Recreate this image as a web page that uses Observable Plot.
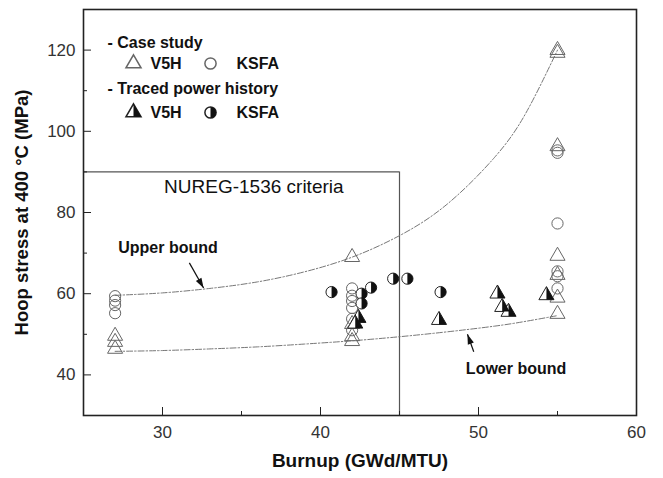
<!DOCTYPE html>
<html><head><meta charset="utf-8">
<script src="https://cdn.jsdelivr.net/npm/d3@7"></script>
<script src="https://cdn.jsdelivr.net/npm/@observablehq/plot@0.6"></script>
<style>body{margin:0;background:#fff;}</style>
</head><body><div id="chart"></div>
<script>
// ---- data ----
const caseV5HBurnup = [27, 27, 27, 42, 42, 42, 42, 55, 55, 55, 55, 55, 55, 55];
const caseV5HStress = [49.6, 48.1, 46.4, 69.0, 52.5, 49.5, 48.3, 120.0, 119.3, 96.3, 69.3, 64.6, 59.0, 55.0];
const caseKSFABurnup = [27, 27, 27, 27, 42, 42, 42, 42, 42, 42, 55, 55, 55, 55, 55, 55];
const caseKSFAStress = [59.4, 58.3, 57.2, 55.2, 61.3, 59.5, 58.2, 56.5, 53.8, 51.0, 95.3, 94.7, 77.3, 65.5, 64.3, 61.3];
const tracedV5HBurnup = [42.4, 42.2, 47.5, 51.2, 51.5, 51.9, 54.3];
const tracedV5HStress = [54.0, 52.6, 53.5, 60.0, 56.7, 55.5, 59.6];
const tracedKSFABurnup = [40.7, 42.6, 43.2, 42.6, 44.6, 45.5, 47.6];
const tracedKSFAStress = [60.4, 60.0, 61.5, 57.6, 63.7, 63.7, 60.4];
const boundBurnup = [27, 30, 33, 36, 39, 42, 45, 48, 51, 53, 55];
const upperStress = [59.6, 60.2, 61.3, 62.9, 65.4, 69.0, 74.3, 82.0, 93.5, 104.5, 120.0];
const lowerStress = [45.8, 46.0, 46.4, 46.9, 47.6, 48.4, 49.4, 50.6, 52.0, 53.2, 54.6];
const xMajorTicks = [30, 40, 50, 60];
const xMinorTicks = [35, 45, 55];
const yMajorTicks = [40, 60, 80, 100, 120];
const yMinorTicks = [50, 70, 90, 110];
const nuregLimit = {burnup: 45, stress: 90};
const annotationLabels = ["Upper bound", "Lower bound"];
const annotationX = [27.2, 49.2];
const annotationY = [71.2, 41.4];
const arrowFromX = [31.7, 49.7], arrowFromY = [67.6, 45.7];
const arrowToX = [32.6, 49.3], arrowToY = [61.4, 50.0];

const zip = (xs, ys) => xs.map((x, i) => ({x, y: ys[i]}));
const caseV5H = zip(caseV5HBurnup, caseV5HStress);
const caseKSFA = zip(caseKSFABurnup, caseKSFAStress);
const tracedV5H = zip(tracedV5HBurnup, tracedV5HStress);
const tracedKSFA = zip(tracedKSFABurnup, tracedKSFAStress);
const upper = zip(boundBurnup, upperStress);
const lower = zip(boundBurnup, lowerStress);
const annotations = annotationLabels.map((label, i) => ({
  label, x: annotationX[i], y: annotationY[i],
  x1: arrowFromX[i], y1: arrowFromY[i], x2: arrowToX[i], y2: arrowToY[i]
}));

// ---- layout ----
const W = 663, H = 478;
const mL = 83, mR = 27, mT = 9, mB = 63;
const xDomain = [25, 60], yDomain = [30, 130];

// custom symbols
const halfCircle = {draw(ctx, size) { const r = Math.sqrt(size / Math.PI); ctx.moveTo(0, -r); ctx.arc(0, 0, r, -Math.PI / 2, Math.PI / 2); ctx.closePath(); }};
const halfTriangle = {draw(ctx, size) { const y = -Math.sqrt(size / (3 * Math.sqrt(3))); ctx.moveTo(0, 2 * y); ctx.lineTo(0, -y); ctx.lineTo(-Math.sqrt(3) * y, -y); ctx.closePath(); }};
const arrowHead = {draw(ctx) { ctx.moveTo(0, 0); ctx.lineTo(3.2, 10); ctx.lineTo(-3.2, 10); ctx.closePath(); }};

const sx = Plot.scale({x: {domain: xDomain, range: [mL, W - mR]}});
const sy = Plot.scale({y: {domain: yDomain, range: [H - mB, mT]}});
annotations.forEach(a => {
  const dx = sx.apply(a.x2) - sx.apply(a.x1);
  const dy = sy.apply(a.y2) - sy.apply(a.y1);
  a.rot = Math.atan2(dx, -dy) * 180 / Math.PI;
});

const openStroke = "#666";
const rTri = 5.6, rCir = 5.6;
const legendFont = 16;

function legendText(text, dx, dy) {
  return Plot.text([text], {frameAnchor: "top-left", dx, dy, text: d => d, textAnchor: "start", lineAnchor: "middle", fontSize: legendFont, fontWeight: "bold", fill: "#111"});
}
function legendDot(opts, dx, dy) {
  return Plot.dot([0], {frameAnchor: "top-left", dx, dy, ...opts});
}

const plot = Plot.plot({
  width: W, height: H,
  marginLeft: mL, marginRight: mR, marginTop: mT, marginBottom: mB,
  x: {domain: xDomain},
  y: {domain: yDomain},
  style: {fontFamily: "'Liberation Sans', Arial, sans-serif", background: "#fff"},
  marks: [
    // NUREG criteria box
    Plot.ruleY([nuregLimit.stress], {x1: xDomain[0], x2: nuregLimit.burnup, stroke: "#555", strokeWidth: 1.2}),
    Plot.ruleX([nuregLimit.burnup], {y1: yDomain[0], y2: nuregLimit.stress, stroke: "#555", strokeWidth: 1.2}),
    Plot.text(["NUREG-1536 criteria"], {x: 30.1, y: 86.4, text: d => d, textAnchor: "start", fontSize: 19, fill: "#111"}),
    // bounds
    Plot.line(upper, {x: "x", y: "y", curve: "natural", stroke: "#777", strokeWidth: 1, strokeDasharray: "6,2,1.5,2"}),
    Plot.line(lower, {x: "x", y: "y", curve: "natural", stroke: "#777", strokeWidth: 1, strokeDasharray: "6,2,1.5,2"}),
    // annotations
    Plot.text(annotations, {x: "x", y: "y", text: "label", textAnchor: "start", fontSize: 16, fontWeight: "bold", fill: "#111"}),
    Plot.link(annotations, {x1: "x1", y1: "y1", x2: "x2", y2: "y2", stroke: "#111", strokeWidth: 1.2}),
    Plot.dot(annotations, {x: "x2", y: "y2", symbol: arrowHead, rotate: "rot", fill: "#111", stroke: "none"}),
    // case study
    Plot.dot(caseV5H, {x: "x", y: "y", symbol: "triangle", r: rTri, fill: "none", stroke: openStroke, strokeWidth: 1}),
    Plot.dot(caseKSFA, {x: "x", y: "y", symbol: "circle", r: rCir, fill: "none", stroke: openStroke, strokeWidth: 1}),
    // traced power history
    Plot.dot(tracedV5H, {x: "x", y: "y", symbol: "triangle", r: rTri, fill: "#fff", stroke: "#222", strokeWidth: 1}),
    Plot.dot(tracedV5H, {x: "x", y: "y", symbol: halfTriangle, r: rTri, fill: "#111", stroke: "none"}),
    Plot.dot(tracedKSFA, {x: "x", y: "y", symbol: "circle", r: rCir, fill: "#fff", stroke: "#222", strokeWidth: 1}),
    Plot.dot(tracedKSFA, {x: "x", y: "y", symbol: halfCircle, r: rCir, fill: "#111", stroke: "none"}),
    // legend
    legendText("- Case study", 24, 33),
    legendDot({symbol: "triangle", r: rTri, fill: "none", stroke: openStroke}, 50, 54),
    legendText("V5H", 67, 54),
    legendDot({symbol: "circle", r: rCir, fill: "none", stroke: openStroke}, 127, 54),
    legendText("KSFA", 153, 54),
    legendText("- Traced power history", 24, 79),
    legendDot({symbol: "triangle", r: rTri, fill: "#fff", stroke: "#222"}, 50, 103),
    legendDot({symbol: halfTriangle, r: rTri, fill: "#111", stroke: "none"}, 50, 103),
    legendText("V5H", 67, 103),
    legendDot({symbol: "circle", r: rCir, fill: "#fff", stroke: "#222"}, 127, 103),
    legendDot({symbol: halfCircle, r: rCir, fill: "#111", stroke: "none"}, 127, 103),
    legendText("KSFA", 153, 103),
    // axes
    Plot.axisX(xMajorTicks, {anchor: "bottom", tickSize: -8, tickPadding: 18, fontSize: 17, fill: "#333", stroke: "#222", label: null}),
    Plot.axisX(xMinorTicks, {anchor: "bottom", tickSize: -4, tickFormat: () => "", stroke: "#222", label: null}),
    Plot.axisY(yMajorTicks, {anchor: "left", tickSize: -8, tickPadding: 16, fontSize: 17, fill: "#333", stroke: "#222", label: null}),
    Plot.axisY(yMinorTicks, {anchor: "left", tickSize: -4, tickFormat: () => "", stroke: "#222", label: null}),
    Plot.text(["Burnup (GWd/MTU)"], {frameAnchor: "bottom", dy: 51, text: d => d, textAnchor: "middle", fontSize: 19, fontWeight: "bold", fill: "#111"}),
    Plot.text(["Hoop stress at 400 °C (MPa)"], {frameAnchor: "left", dx: -61, rotate: -90, text: d => d, textAnchor: "middle", fontSize: 18.5, fontWeight: "bold", fill: "#111"}),
    Plot.frame({stroke: "#222", strokeWidth: 1.6})
  ]
});
document.getElementById("chart").appendChild(plot);
</script>
</body></html>
